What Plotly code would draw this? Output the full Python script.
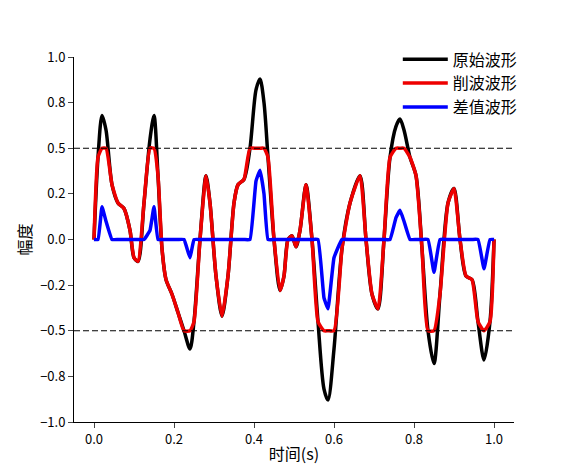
import numpy as np
import plotly.graph_objects as go

t = [0,0.01,0.02,0.03,0.045,0.06,0.075,0.09,0.1,0.11,0.125,0.14,0.15,0.16,0.17,0.18,0.195,0.21,0.225,0.24,0.25,0.265,0.28,0.29,0.305,0.32,0.335,0.35,0.36,0.375,0.39,0.405,0.415,0.425,0.435,0.45,0.465,0.475,0.485,0.495,0.505,0.515,0.53,0.545,0.56,0.575,0.585,0.6,0.62,0.64,0.665,0.68,0.695,0.71,0.725,0.74,0.755,0.765,0.775,0.79,0.805,0.82,0.835,0.85,0.865,0.885,0.9,0.915,0.93,0.945,0.96,0.975,0.99,1.0]
original = [0,0.45,0.68,0.6,0.3,0.2,0.17,0.05,-0.1,-0.12,0.2,0.55,0.68,0.35,-0.05,-0.22,-0.3,-0.4,-0.5,-0.6,-0.45,0.0,0.35,0.2,-0.2,-0.42,-0.2,0.2,0.3,0.33,0.5,0.82,0.88,0.75,0.45,0.0,-0.28,-0.2,0.0,0.02,-0.04,0.05,0.3,0.0,-0.45,-0.82,-0.88,-0.6,-0.05,0.2,0.35,0.0,-0.3,-0.38,0.0,0.45,0.62,0.66,0.6,0.45,0.35,-0.05,-0.5,-0.68,-0.3,0.2,0.28,0.0,-0.2,-0.22,-0.45,-0.66,-0.45,0.0]
clip_level = 0.5

orig = np.array(original)
clipped = np.clip(orig, -clip_level, clip_level)
diff = orig - clipped

font = "Noto Sans CJK SC, DejaVu Sans"
fig = go.Figure()
fig.add_trace(go.Scatter(x=t, y=original, mode="lines", name="原始波形",
                         line=dict(color="black", width=3.5, shape="spline", smoothing=0.8)))
fig.add_trace(go.Scatter(x=t, y=clipped, mode="lines", name="削波波形",
                         line=dict(color="#ee0000", width=3.5, shape="spline", smoothing=0.5)))
fig.add_trace(go.Scatter(x=t, y=diff, mode="lines", name="差值波形",
                         line=dict(color="#0000ff", width=3.5, shape="spline", smoothing=0.3)))
for yv in (clip_level, -clip_level):
    fig.add_shape(type="line", xref="paper", x0=0, x1=1, y0=yv, y1=yv,
                  line=dict(color="black", width=1, dash="6px,3px"))

fig.update_layout(
    width=570, height=475, plot_bgcolor="white", paper_bgcolor="white",
    margin=dict(l=66, r=64, t=49, b=61),
    font=dict(family=font, size=13, color="black"),
    legend=dict(x=1.02, y=1.04, xanchor="right", yanchor="top", bgcolor="rgba(0,0,0,0)",
                font=dict(size=16), itemwidth=45, tracegroupgap=0),
    xaxis=dict(range=[-0.05, 1.05], tickvals=[0, 0.2, 0.4, 0.6, 0.8, 1.0],
               ticktext=["0.0", "0.2", "0.4", "0.6", "0.8", "1.0"],
               showline=True, linecolor="black", ticks="outside", showgrid=False, zeroline=False,
               title=dict(text="时间(s)", standoff=2)),
    yaxis=dict(range=[-1, 1], tickvals=[-1, -0.75, -0.5, -0.25, 0, 0.25, 0.5, 0.75, 1],
               ticktext=["−1.0", "−0.8", "−0.5", "−0.2", "0.0", "0.2", "0.5", "0.8", "1.0"],
               showline=True, linecolor="black", ticks="outside", showgrid=False, zeroline=False,
               title=dict(text="幅度", standoff=4)),
)
fig.write_html("out.html")
